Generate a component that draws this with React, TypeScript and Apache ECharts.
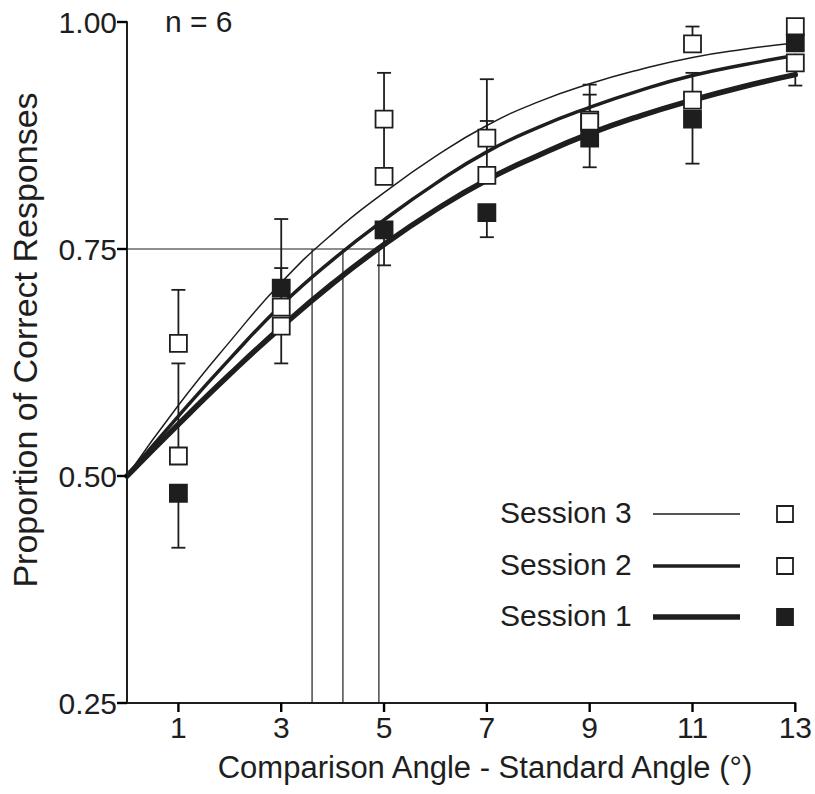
import React, { useEffect, useRef } from "react";
import * as echarts from "echarts";

// ---- data ----
const xCats = [1, 3, 5, 7, 9, 11, 13];
const xTicks = [1, 3, 5, 7, 9, 11, 13];
const yTicks = [0.25, 0.5, 0.75, 1.0];

// observed proportions
const s3Vals = [0.646, 0.686, 0.893, 0.872, 0.892, 0.976, 0.995];
const s2Vals = [0.522, 0.665, 0.83, 0.831, 0.89, 0.914, 0.955];
const s1Vals = [0.481, 0.707, 0.771, 0.79, 0.872, 0.893, 0.977];

// error-bar ends (one-sided, as drawn)
const s3Err = [0.705, 0.783, 0.944, 0.937, 0.931, 0.995, null];
const s2Err = [0.624, 0.624, 0.893, 0.891, 0.92, 0.944, 0.93];
const s1Err = [0.421, 0.729, 0.732, 0.763, 0.84, 0.844, 0.995];

// fitted curves, read at integer angles
const curveX = [0, 1, 2, 3, 4, 5, 6, 7, 8, 9, 10, 11, 12, 13];
const s3Curve = [0.5, 0.578, 0.648, 0.713, 0.767, 0.812, 0.852, 0.886, 0.912, 0.932, 0.948, 0.961, 0.97, 0.977];
const s2Curve = [0.5, 0.566, 0.629, 0.688, 0.738, 0.782, 0.822, 0.857, 0.884, 0.906, 0.925, 0.941, 0.953, 0.963];
const s1Curve = [0.5, 0.557, 0.612, 0.664, 0.712, 0.755, 0.793, 0.826, 0.853, 0.877, 0.897, 0.914, 0.929, 0.942];

// 75% thresholds (Session 3, 2, 1)
const thresholds = [3.6, 4.2, 4.9];
const criterion = 0.75;

const legendNames = ["Session 3", "Session 2", "Session 1"];

const INK = "#1e1e1e";
const FONT = "'Liberation Sans', Arial, Helvetica, sans-serif";
const Y_MIN = 0.25;
const Y_MAX = 1.0;
const X_MIN = 0;
const X_MAX = 13;

function errData(vals: number[], ends: (number | null)[]) {
  const out: number[][] = [];
  xCats.forEach((x, i) => {
    if (ends[i] != null) out.push([x, vals[i], ends[i] as number]);
  });
  return out;
}

function curveData(vals: number[]) {
  return curveX.map((x, i) => [x, vals[i]]);
}

function pointData(vals: number[]) {
  return xCats.map((x, i) => [x, vals[i]]);
}

const errRender = (params: any, api: any) => {
  const x = api.value(0);
  const a = api.coord([x, api.value(1)]);
  const b = api.coord([x, api.value(2)]);
  const st = { stroke: INK, lineWidth: 1.8 };
  return {
    type: "group",
    children: [
      { type: "line", shape: { x1: a[0], y1: a[1], x2: b[0], y2: b[1] }, style: st },
      { type: "line", shape: { x1: b[0] - 7, y1: b[1], x2: b[0] + 7, y2: b[1] }, style: st },
    ],
  };
};

export default function App() {
  const ref = useRef<HTMLDivElement>(null);

  useEffect(() => {
    if (!ref.current) return;
    const chart = echarts.init(ref.current, null, { renderer: "svg" });

    const lineWidths = [1.5, 3.5, 5.5];
    const curves = [s3Curve, s2Curve, s1Curve];
    const vals = [s3Vals, s2Vals, s1Vals];
    const errs = [s3Err, s2Err, s1Err];
    const filled = [false, false, true];

    const series: any[] = [];

    // threshold guide lines
    series.push({
      type: "line",
      data: [[X_MIN, criterion], [Math.max(...thresholds), criterion]],
      symbol: "none",
      lineStyle: { color: INK, width: 1.2 },
      z: 1,
      silent: true,
    });
    thresholds.forEach((t) => {
      series.push({
        type: "line",
        data: [[t, Y_MIN], [t, criterion]],
        symbol: "none",
        lineStyle: { color: INK, width: 1.2 },
        z: 1,
        silent: true,
      });
    });

    curves.forEach((c, i) => {
      series.push({
        name: legendNames[i] + " fit",
        type: "line",
        data: curveData(c),
        smooth: 0.5,
        symbol: "none",
        lineStyle: { color: INK, width: lineWidths[i], cap: "round" },
        z: 2,
      });
    });

    errs.forEach((e, i) => {
      series.push({
        type: "custom",
        data: errData(vals[i], e),
        renderItem: errRender,
        clip: false,
        z: 3,
        encode: { x: 0, y: [1, 2] },
      });
    });

    vals.forEach((v, i) => {
      series.push({
        name: legendNames[i],
        type: "scatter",
        data: pointData(v),
        symbol: "rect",
        symbolSize: 17,
        itemStyle: {
          color: filled[i] ? INK : "#ffffff",
          borderColor: INK,
          borderWidth: 1.8,
          opacity: 1,
        },
        z: 4 + (filled[i] ? 1 : 0),
      });
    });

    const legendY = [514, 566, 617];
    const graphic: any[] = [];
    legendNames.forEach((n, i) => {
      graphic.push({
        type: "text",
        left: 500,
        top: legendY[i] - 17,
        style: { text: n, font: `30px ${FONT}`, fill: INK },
      });
      graphic.push({
        type: "line",
        shape: { x1: 653, y1: legendY[i], x2: 740, y2: legendY[i] },
        style: { stroke: INK, lineWidth: lineWidths[i] },
      });
      graphic.push({
        type: "rect",
        shape: { x: 777, y: legendY[i] - 8, width: 16, height: 16 },
        style: { fill: filled[i] ? INK : "#ffffff", stroke: INK, lineWidth: 1.8 },
      });
    });
    graphic.push({
      type: "text",
      left: 165,
      top: 6,
      style: { text: "n = 6", font: `30px ${FONT}`, fill: INK },
    });
    graphic.push({
      type: "text",
      x: 485,
      y: 767,
      style: {
        text: "Comparison Angle - Standard Angle (°)",
        font: `31px ${FONT}`,
        fill: INK,
        align: "center",
        verticalAlign: "middle",
      },
    });
    graphic.push({
      type: "text",
      x: 25,
      y: 340,
      rotation: Math.PI / 2,
      style: {
        text: "Proportion of Correct Responses",
        font: `34px ${FONT}`,
        fill: INK,
        align: "center",
        verticalAlign: "middle",
      },
    });

    chart.setOption({
      animation: false,
      backgroundColor: "#ffffff",
      grid: { left: 127, right: 18, top: 22, bottom: 91, containLabel: false },
      xAxis: {
        type: "value",
        min: X_MIN,
        max: X_MAX,
        axisLine: { show: true, lineStyle: { color: INK, width: 2 } },
        axisTick: { show: false },
        axisLabel: {
          customValues: xTicks,
          color: INK,
          fontSize: 30,
          fontFamily: FONT,
          margin: 9,
        },
        splitLine: { show: false },
      },
      yAxis: {
        type: "value",
        min: Y_MIN,
        max: Y_MAX,
        interval: 0.25,
        axisLine: { show: true, lineStyle: { color: INK, width: 2 } },
        axisTick: { show: false },
        axisLabel: {
          color: INK,
          fontSize: 30,
          fontFamily: FONT,
          margin: 10,
          formatter: (v: number) => v.toFixed(2),
        },
        splitLine: { show: false },
      },
      graphic,
      series,
    });

    // tick marks, positioned through the chart's own axis scales
    const tickStyle = { stroke: "#000000", lineWidth: 2.4 };
    const ticks: any[] = [];
    xTicks.forEach((x) => {
      const p = chart.convertToPixel({ gridIndex: 0 }, [x, Y_MIN]) as number[];
      ticks.push({
        type: "line",
        shape: { x1: p[0], y1: p[1], x2: p[0], y2: p[1] + 9 },
        style: tickStyle,
        z: 100,
      });
    });
    yTicks.forEach((y) => {
      const p = chart.convertToPixel({ gridIndex: 0 }, [X_MIN, y]) as number[];
      ticks.push({
        type: "line",
        shape: { x1: p[0] - 10, y1: p[1], x2: p[0], y2: p[1] },
        style: tickStyle,
        z: 100,
      });
    });
    chart.setOption({ graphic: [...graphic, ...ticks] });

    return () => chart.dispose();
  }, []);

  return (
    <div
      ref={ref}
      style={{ position: "fixed", left: 0, top: 0, width: 815, height: 794, background: "#fff" }}
    />
  );
}
